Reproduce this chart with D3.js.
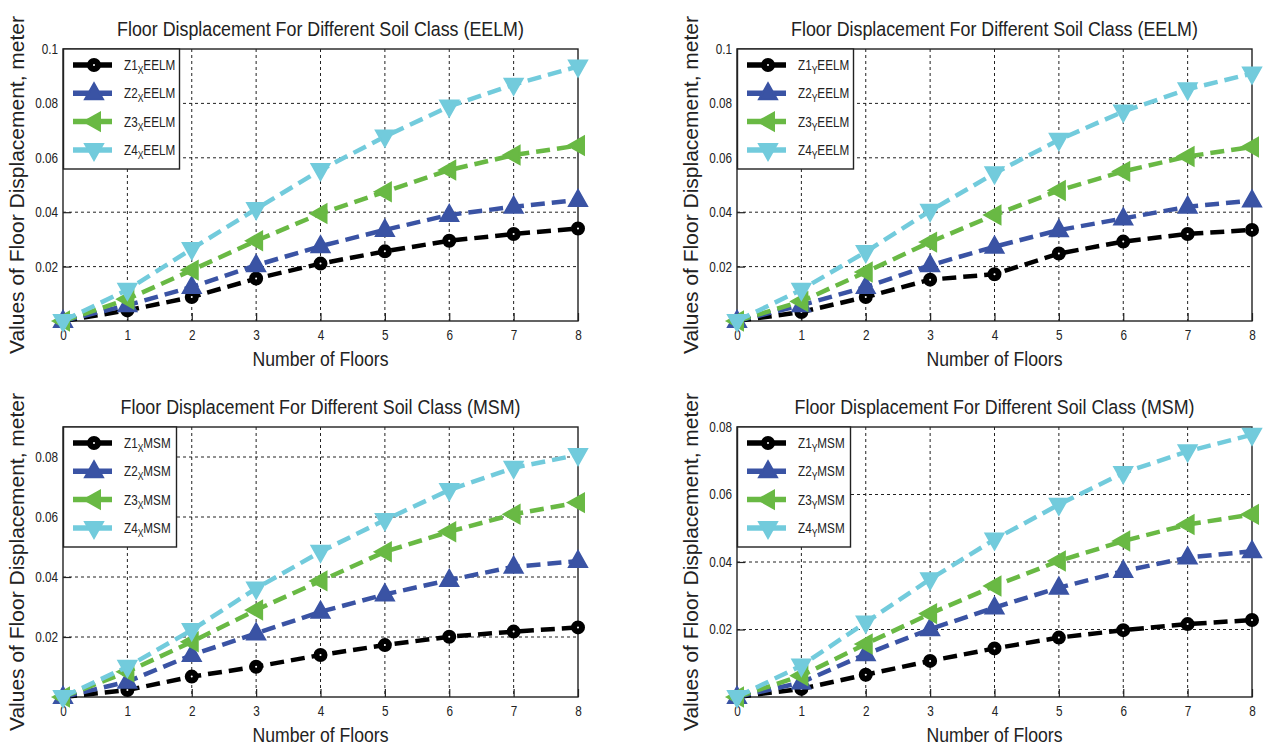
<!DOCTYPE html>
<html>
<head>
<meta charset="utf-8">
<script src="https://cdn.jsdelivr.net/npm/d3@7"></script>
<style>
  body { margin: 0; background: #fff; }
  text { font-family: "Liberation Sans", Arial, sans-serif; fill: #222; }
</style>
</head>
<body>
<script>
"use strict";

// Data
var floors = [0, 1, 2, 3, 4, 5, 6, 7, 8];

var z1xEELM = [0, 0.0039, 0.0088, 0.0156, 0.0211, 0.0256, 0.0295, 0.0320, 0.0340];
var z2xEELM = [0, 0.0058, 0.0125, 0.0205, 0.0275, 0.0335, 0.0390, 0.0420, 0.0445];
var z3xEELM = [0, 0.0080, 0.0187, 0.0295, 0.0395, 0.0475, 0.0555, 0.0610, 0.0645];
var z4xEELM = [0, 0.0115, 0.0265, 0.0412, 0.0555, 0.0678, 0.0789, 0.0869, 0.0936];

var z1yEELM = [0, 0.0033, 0.0088, 0.0152, 0.0172, 0.0248, 0.0292, 0.0320, 0.0335];
var z2yEELM = [0, 0.0058, 0.0125, 0.0205, 0.0273, 0.0334, 0.0377, 0.0420, 0.0443];
var z3yEELM = [0, 0.0072, 0.0180, 0.0290, 0.0390, 0.0480, 0.0550, 0.0605, 0.0640];
var z4yEELM = [0, 0.0115, 0.0254, 0.0405, 0.0543, 0.0666, 0.0770, 0.0852, 0.0910];

var z1xMSM = [0, 0.0023, 0.0068, 0.0101, 0.0140, 0.0173, 0.0201, 0.0218, 0.0232];
var z2xMSM = [0, 0.0051, 0.0140, 0.0212, 0.0284, 0.0342, 0.0390, 0.0434, 0.0453];
var z3xMSM = [0, 0.0084, 0.0184, 0.0290, 0.0387, 0.0484, 0.0551, 0.0609, 0.0648];
var z4xMSM = [0, 0.0101, 0.0223, 0.0362, 0.0484, 0.0590, 0.0690, 0.0764, 0.0807];

var z1yMSM = [0, 0.0024, 0.0066, 0.0107, 0.0144, 0.0176, 0.0198, 0.0216, 0.0228];
var z2yMSM = [0, 0.0043, 0.0127, 0.0201, 0.0265, 0.0324, 0.0373, 0.0413, 0.0432];
var z3yMSM = [0, 0.0063, 0.0157, 0.0247, 0.0329, 0.0403, 0.0462, 0.0511, 0.0541];
var z4yMSM = [0, 0.0093, 0.0221, 0.0349, 0.0467, 0.0570, 0.0664, 0.0728, 0.0777];

var ticksEELM = [0.02, 0.04, 0.06, 0.08, 0.1];
var ticksMSM = [0.02, 0.04, 0.06, 0.08];

var zones = ["Z1", "Z2", "Z3", "Z4"];
var colours = ["#000000", "#3a53a4", "#69b944", "#72cbdc"];
var markers = ["circle", "up", "left", "down"];

// Panel layout (pixels)
var panels = [
  { left: 63,  right: 578,  top: 49,  bottom: 321, ymax: 0.1,  ticks: ticksEELM,
    title: "Floor Displacement For Different Soil Class  (EELM)", dir: "X", method: "EELM",
    series: [z1xEELM, z2xEELM, z3xEELM, z4xEELM], legW: 116 },
  { left: 737, right: 1252, top: 49,  bottom: 321, ymax: 0.1,  ticks: ticksEELM,
    title: "Floor Displacement For Different Soil Class (EELM)", dir: "Y", method: "EELM",
    series: [z1yEELM, z2yEELM, z3yEELM, z4yEELM], legW: 116 },
  { left: 63,  right: 578,  top: 427, bottom: 697, ymax: 0.09, ticks: ticksMSM,
    title: "Floor Displacement For Different Soil Class (MSM)", dir: "X", method: "MSM",
    series: [z1xMSM, z2xMSM, z3xMSM, z4xMSM], legW: 113 },
  { left: 737, right: 1252, top: 427, bottom: 697, ymax: 0.08, ticks: ticksMSM,
    title: "Floor Displacement For Different Soil Class (MSM)", dir: "Y", method: "MSM",
    series: [z1yMSM, z2yMSM, z3yMSM, z4yMSM], legW: 113 }
];

var svg = d3.select("body").append("svg")
  .attr("width", 1263)
  .attr("height", 749);

// condensed text: scale horizontally inside a group
function narrow(parent, x, y, str, size, anchor, sx) {
  var g = parent.append("g")
    .attr("transform", "translate(" + x + "," + y + ") scale(" + sx + ",1)");
  g.append("text")
    .attr("text-anchor", anchor)
    .style("font-size", size + "px")
    .text(str);
  return g;
}

function draw_marker(g, kind, cx, cy, colour) {
  if (kind == "circle") {
    g.append("circle")
      .attr("cx", cx).attr("cy", cy).attr("r", 4)
      .attr("fill", "#fff")
      .attr("stroke", colour)
      .attr("stroke-width", 6);
    return;
  }
  var pts;
  if (kind == "up") pts = [[0, -10], [9, 6], [-9, 6]];
  if (kind == "down") pts = [[0, 10], [9, -6], [-9, -6]];
  if (kind == "left") pts = [[-10, 0], [6, -9], [6, 9]];
  g.append("path")
    .attr("d", "M" + pts.map(p => (cx + p[0]) + "," + (cy + p[1])).join("L") + "Z")
    .attr("fill", colour)
    .attr("stroke", colour)
    .attr("stroke-width", 2)
    .attr("stroke-linejoin", "miter");
}

panels.forEach(function(p) {
  var g = svg.append("g");
  var x = d3.scaleLinear().domain([0, 8]).range([p.left, p.right]);
  var y = d3.scaleLinear().domain([0, p.ymax]).range([p.bottom, p.top]);

  // grid
  g.append("g").selectAll("line")
    .data(floors.slice(1, 8))
    .join("line")
    .attr("x1", d => x(d)).attr("x2", d => x(d))
    .attr("y1", p.top).attr("y2", p.bottom)
    .attr("stroke", "#222").attr("stroke-width", 1)
    .attr("stroke-dasharray", "3,3");
  g.append("g").selectAll("line")
    .data(p.ticks.filter(t => t < p.ymax))
    .join("line")
    .attr("x1", p.left).attr("x2", p.right)
    .attr("y1", d => y(d)).attr("y2", d => y(d))
    .attr("stroke", "#222").attr("stroke-width", 1)
    .attr("stroke-dasharray", "3,3");

  // axes
  var xa = g.append("g")
    .attr("transform", "translate(0," + p.bottom + ")")
    .call(d3.axisBottom(x).tickValues(floors).tickFormat(d3.format("d"))
      .tickSizeInner(-8).tickSizeOuter(0).tickPadding(9));
  var ya = g.append("g")
    .attr("transform", "translate(" + p.left + ",0)")
    .call(d3.axisLeft(y).tickValues(p.ticks).tickFormat(d => String(d))
      .tickSizeInner(-8).tickSizeOuter(0).tickPadding(5));
  [xa, ya].forEach(function(a) {
    a.select(".domain").remove();
    a.selectAll(".tick line").attr("stroke", "#222").attr("stroke-width", 1.2);
    a.selectAll(".tick text")
      .attr("font-family", null)
      .style("font-size", "14px")
      .attr("fill", "#222")
      .attr("transform", "scale(0.84,1)");
  });
  ya.selectAll(".tick text").attr("x", -5 / 0.84);

  // box
  g.append("rect")
    .attr("x", p.left).attr("y", p.top)
    .attr("width", p.right - p.left).attr("height", p.bottom - p.top)
    .attr("fill", "none").attr("stroke", "#222").attr("stroke-width", 1.4);

  // titles
  narrow(g, (p.left + p.right) / 2, p.top - 13, p.title, 20.5, "middle", 0.87);
  narrow(g, (p.left + p.right) / 2, p.bottom + 45, "Number of Floors", 20.5, "middle", 0.86);
  g.append("text")
    .attr("transform", "translate(" + (p.left - 39) + "," + ((p.top + p.bottom) / 2) + ") rotate(-90)")
    .attr("text-anchor", "middle")
    .style("font-size", "21px")
    .text("Values of Floor Displacement, meter");

  // series
  var line = d3.line().x((d, i) => x(floors[i])).y(d => y(d));
  p.series.forEach(function(vals, k) {
    var sg = g.append("g");
    sg.append("path")
      .datum(vals)
      .attr("d", line)
      .attr("fill", "none")
      .attr("stroke", colours[k])
      .attr("stroke-width", 4.5)
      .attr("stroke-dasharray", "14,7");
    vals.forEach(function(v, i) {
      draw_marker(sg, markers[k], x(floors[i]), y(v), colours[k]);
    });
  });

  // legend
  var lg = g.append("g").attr("transform", "translate(" + p.left + "," + p.top + ")");
  lg.append("rect")
    .attr("x", 0.5).attr("y", 0)
    .attr("width", p.legW).attr("height", 120)
    .attr("fill", "#fff").attr("stroke", "#222").attr("stroke-width", 1.4);
  zones.forEach(function(z, k) {
    var ly = 16 + k * 28.3;
    lg.append("line")
      .attr("x1", 10).attr("x2", 49)
      .attr("y1", ly).attr("y2", ly)
      .attr("stroke", colours[k]).attr("stroke-width", 5.5);
    draw_marker(lg, markers[k], 31, ly, colours[k]);
    var tg = lg.append("g")
      .attr("transform", "translate(61," + (ly + 5) + ") scale(0.78,1)");
    var t = tg.append("text").style("font-size", "15px");
    t.append("tspan").text(z);
    t.append("tspan").style("font-size", "11px").attr("dy", 4).text(p.dir);
    t.append("tspan").attr("dy", -4).text(p.method);
  });
});
</script>
</body>
</html>
